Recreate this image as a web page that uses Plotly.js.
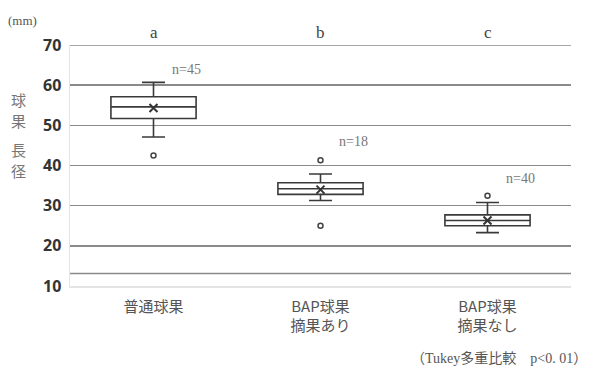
<!DOCTYPE html>
<html><head><meta charset="utf-8">
<script src="https://cdn.plot.ly/plotly-3.0.1.min.js"></script>
<style>body{margin:0;background:#fff}#c{width:589px;height:376px}</style>
</head><body><div id="c"></div>
<script>
const categories = ["普通球果", "BAP球果<br>摘果あり", "BAP球果<br>摘果なし"];
const q1 = [51.7, 32.8, 25.0];
const median = [54.6, 34.2, 26.3];
const q3 = [57.1, 35.7, 27.7];
const lowerWhisker = [47.1, 31.3, 23.3];
const upperWhisker = [60.7, 37.9, 30.8];
const means = [54.3, 34.0, 26.3];
const outlierCats = ["普通球果", "BAP球果<br>摘果あり", "BAP球果<br>摘果あり", "BAP球果<br>摘果なし"];
const outlierVals = [42.5, 41.3, 25.0, 32.5];
const groupLetters = ["a", "b", "c"];
const nLabels = ["n=45", "n=18", "n=40"];
const nLabelY = [63.8, 46.0, 36.8];
const extraLines = [13.1, 70];
const yTicks = [10, 20, 30, 40, 50, 60, 70];
const yTitleChars = ["球", "果", "長", "径"];

const serif = "Liberation Serif, Noto Sans CJK JP, serif";
const gray = "#555";

const traces = [
  {
    type: "box", x: categories, q1: q1, median: median, q3: q3,
    lowerfence: lowerWhisker, upperfence: upperWhisker,
    boxpoints: false, fillcolor: "#ffffff",
    line: {color: "#3a3a3a", width: 1.6}, whiskerwidth: 0.27,
    hoverinfo: "skip", showlegend: false
  },
  {
    type: "scatter", mode: "markers", x: categories, y: means,
    marker: {symbol: "x-thin-open", size: 8, color: "#333", line: {color: "#333", width: 2}},
    showlegend: false, hoverinfo: "skip"
  },
  {
    type: "scatter", mode: "markers", x: outlierCats, y: outlierVals,
    marker: {symbol: "circle-open", size: 5, color: "#444", line: {color: "#444", width: 1.5}},
    showlegend: false, hoverinfo: "skip"
  }
];

const annotations = [];
categories.forEach((c, i) => {
  annotations.push({x: c, y: 70, yref: "y", xref: "x", yshift: 13, text: groupLetters[i],
    showarrow: false, font: {family: serif, size: 17, color: "#444"}});
  annotations.push({x: i + 0.2, y: nLabelY[i], xref: "x", yref: "y", text: nLabels[i],
    xanchor: "center", showarrow: false, font: {family: serif, size: 14, color: "#777"}});
});
annotations.push({xref: "paper", yref: "paper", x: -0.095, y: 1.14, text: "(mm)", xanchor: "center",
  showarrow: false, font: {family: "Liberation Serif, Noto Sans CJK JP", size: 13, color: gray}});
const charPaperY = [0.772, 0.687, 0.565, 0.48];
yTitleChars.forEach((ch, i) => {
  annotations.push({xref: "paper", yref: "paper", x: -0.102, y: charPaperY[i], text: ch,
    xanchor: "center", yanchor: "middle", showarrow: false, height: 17,
    font: {family: "Noto Sans CJK JP", size: 15, color: "#777"}});
});
annotations.push({xref: "paper", yref: "paper", x: 1.035, y: -0.3, text: "（Tukey多重比較\u3000p<0. 01）",
  xanchor: "right", yanchor: "middle", showarrow: false, font: {family: "Liberation Serif, Noto Sans CJK JP", size: 14, color: gray}});

const layout = {
  width: 589, height: 376,
  margin: {l: 70, r: 18, t: 45, b: 90},
  paper_bgcolor: "#fff", plot_bgcolor: "#fff",
  boxgap: 0.49, boxgroupgap: 0,
  xaxis: {type: "category", showgrid: false, showline: true, linecolor: "#e4e4e4", linewidth: 1.5,
    ticks: "", ticklabelstandoff: 6, tickfont: {family: "Noto Sans CJK JP", size: 15, color: gray}, fixedrange: true},
  yaxis: {range: [10, 70], tickvals: yTicks, showgrid: true, gridcolor: "#8a8a8a", gridwidth: 1.5,
    showline: true, linecolor: "#e4e4e4", linewidth: 1.5, zeroline: false, ticks: "",
    tickfont: {family: "Noto Sans", size: 16, color: "#333", weight: "bold"}, ticklabelstandoff: 4},
  shapes: extraLines.map(v => ({type: "line", xref: "paper", x0: 0, x1: 1, yref: "y", y0: v, y1: v,
    line: {color: "#8a8a8a", width: 1.5}, layer: "below"})),
  annotations: annotations
};
Plotly.newPlot("c", traces, layout, {staticPlot: true, displayModeBar: false});
</script></body></html>
